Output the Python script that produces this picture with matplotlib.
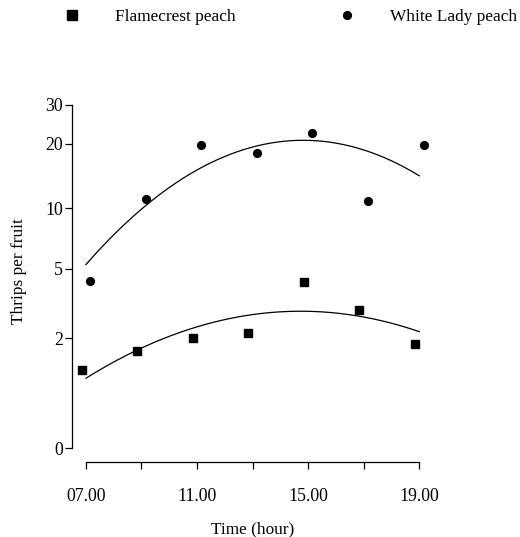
import numpy as np
import matplotlib
matplotlib.use("Agg")
import matplotlib.pyplot as plt
from matplotlib.lines import Line2D

# ---- data ----
hours = [7, 9, 11, 13, 15, 17, 19]
flamecrest = [1.18, 1.64, 2.0, 2.17, 4.25, 2.98, 1.84]
white_lady = [4.33, 11.07, 19.8, 18.06, 22.35, 10.83, 19.7]
series_names = ["Flamecrest peach", "White Lady peach"]
xtick_vals = [7, 9, 11, 13, 15, 17, 19]
xtick_labels = ["07.00", "", "11.00", "", "15.00", "", "19.00"]
ytick_vals = [0, 2, 5, 10, 20, 30]
ytick_labels = ["0", "2", "5", "10", "20", "30"]

plt.rcParams['font.family'] = ['Liberation Serif', 'DejaVu Serif']

fig = plt.figure(figsize=(5.2, 5.37), dpi=100)
ax = fig.add_axes([0.1385, 0.1391, 0.833 - 0.1385, 0.805 - 0.1391])

fwd = lambda y: np.log10(np.asarray(y, dtype=float) + 1)
inv = lambda t: 10 ** np.asarray(t, dtype=float) - 1
ax.set_yscale('function', functions=(fwd, inv))

dodge = 0.155
h = np.array(hours, dtype=float)
ax.plot(h - dodge, flamecrest, ls='none', marker='s', ms=5.6, color='black')
ax.plot(h + dodge, white_lady, ls='none', marker='o', ms=5.6, color='black')

# quadratic regression fits on transformed scale
hx = np.linspace(min(hours), max(hours), 200)
for vals in (flamecrest, white_lady):
    c = np.polyfit(h, fwd(vals), 2)
    ax.plot(hx, inv(np.polyval(c, hx)), color='black', lw=0.9)

ax.set_xlim(6.5, 19.5)
ax.set_ylim(inv(-14.3 / 230.2), 30)

for s in ['top', 'right']:
    ax.spines[s].set_visible(False)
ax.spines['left'].set_bounds(0, 30)
ax.spines['bottom'].set_bounds(7, 19)
for s in ['left', 'bottom']:
    ax.spines[s].set_linewidth(0.9)

ax.set_xticks(xtick_vals)
ax.set_xticklabels(xtick_labels)
ax.set_yticks(ytick_vals)
ax.set_yticklabels(ytick_labels)
ax.minorticks_off()
ax.tick_params(axis='both', labelsize=12.8, length=5, width=0.9, color='black')
ax.tick_params(axis='x', pad=13.5)
ax.tick_params(axis='y', pad=1.5)

ax.set_xlabel("Time (hour)", fontsize=12.4, labelpad=11.5)
ax.set_ylabel("Thrips per fruit", fontsize=12.4)
ax.yaxis.set_label_coords(-0.125, 0.5336)

# legend across the top
h1 = Line2D([], [], ls='none', marker='s', ms=6.5, color='black')
h2 = Line2D([], [], ls='none', marker='o', ms=5.6, color='black')
for hd, name, x0 in ((h1, series_names[0], 63.7), (h2, series_names[1], 338.7)):
    fig.legend([hd], [name], loc='center left',
               bbox_to_anchor=(x0 / 520, 1 - 17 / 537), frameon=False,
               fontsize=12.4, handlelength=1.0, handletextpad=2.0,
               borderpad=0, borderaxespad=0)

fig.savefig("out.png", dpi=100)
